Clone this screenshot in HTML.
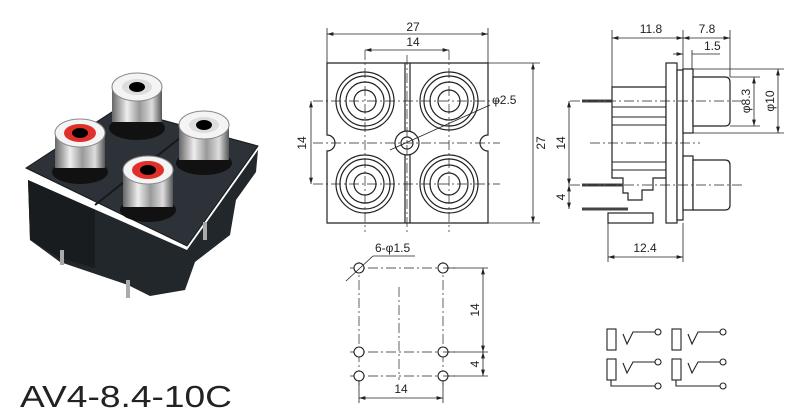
<!DOCTYPE html>
<html><head><meta charset="utf-8"><style>
html,body{margin:0;padding:0;background:#fff;}
svg{display:block;}
text{font-family:"Liberation Sans",Arial,sans-serif;fill:#222;}
</style></head><body>
<svg width="800" height="417" viewBox="0 0 800 417" xmlns="http://www.w3.org/2000/svg">
<defs>
<marker id="a" viewBox="0 0 10 6" refX="10" refY="3" markerWidth="8" markerHeight="5" orient="auto-start-reverse"><path d="M0,0L10,3L0,6z" fill="#222"/></marker>
<linearGradient id="silv" x1="0" x2="1" y1="0" y2="0"><stop offset="0" stop-color="#666"/><stop offset=".3" stop-color="#eee"/><stop offset=".55" stop-color="#999"/><stop offset=".8" stop-color="#ddd"/><stop offset="1" stop-color="#555"/></linearGradient>
<g id="c"><circle r="29"/><circle r="25"/><circle r="19"/><circle r="11"/></g>
</defs>

<!-- PHOTO -->
<polygon points="28,180 187,250 258,150 256,172 236,200 230,235 195,262 185,290 150,296 128,285 60,262 30,240" fill="#22272b"/>
<polygon points="28,180 95,210 95,268 60,258 30,240" fill="#181c1f"/>
<polygon points="26,168 118,108 258,146 187,246" fill="#2c3237" stroke="#15191c"/>
<line x1="95" y1="205" x2="190" y2="130" stroke="#15191c" stroke-width="2"/>
<line x1="62" y1="250" x2="62" y2="265" stroke="#aaa" stroke-width="4"/>
<line x1="128" y1="280" x2="128" y2="298" stroke="#aaa" stroke-width="4"/>
<line x1="205" y1="222" x2="205" y2="240" stroke="#aaa" stroke-width="4"/>
<ellipse cx="137" cy="128" rx="28" ry="12" fill="#111"/>
<rect x="112" y="87" width="50" height="35" fill="url(#silv)"/>
<ellipse cx="137" cy="87" rx="25" ry="14" fill="#f4f4f4" stroke="#888"/>
<ellipse cx="137" cy="87" rx="15" ry="8" fill="#ddd"/>
<ellipse cx="137" cy="87" rx="8" ry="5" fill="#000"/>
<ellipse cx="80" cy="172" rx="28" ry="12" fill="#111"/>
<rect x="55" y="133" width="50" height="35" fill="url(#silv)"/>
<ellipse cx="80" cy="133" rx="25" ry="14" fill="#f4f4f4" stroke="#888"/>
<ellipse cx="80" cy="133" rx="16" ry="9" fill="#e0302a"/>
<ellipse cx="80" cy="133" rx="8" ry="5" fill="#000"/>
<ellipse cx="204" cy="163" rx="28" ry="12" fill="#111"/>
<rect x="179" y="125" width="50" height="35" fill="url(#silv)"/>
<ellipse cx="204" cy="125" rx="25" ry="14" fill="#f4f4f4" stroke="#888"/>
<ellipse cx="204" cy="125" rx="15" ry="8" fill="#ddd"/>
<ellipse cx="204" cy="125" rx="8" ry="5" fill="#000"/>
<ellipse cx="148" cy="210" rx="28" ry="12" fill="#111"/>
<rect x="123" y="170" width="50" height="37" fill="url(#silv)"/>
<ellipse cx="148" cy="170" rx="25" ry="14" fill="#f4f4f4" stroke="#888"/>
<ellipse cx="148" cy="170" rx="16" ry="9" fill="#e0302a"/>
<ellipse cx="148" cy="170" rx="8" ry="5" fill="#000"/>

<text x="20" y="407" font-size="31" textLength="212" lengthAdjust="spacingAndGlyphs">AV4-8.4-10C</text>

<!-- TOP VIEW -->
<g fill="none" stroke="#222" stroke-width="1.2">
<path d="M327,63H488V135A8,8 0 0 0 488,151V223H327V151A8,8 0 0 0 327,135Z"/>
<line x1="405" y1="63" x2="405" y2="223"/><line x1="410" y1="63" x2="410" y2="223"/>
<circle cx="407" cy="143" r="12" fill="#fff"/><circle cx="407" cy="143" r="6"/>
<use href="#c" x="365" y="101"/><use href="#c" x="449" y="101"/><use href="#c" x="365" y="184"/><use href="#c" x="449" y="184"/>
</g>
<g stroke="#222" stroke-width=".7" stroke-dasharray="10,3,2,3" fill="none">
<line x1="313" y1="101" x2="500" y2="101"/><line x1="313" y1="184" x2="500" y2="184"/><line x1="313" y1="143" x2="500" y2="143"/>
<line x1="365" y1="50" x2="365" y2="232"/><line x1="449" y1="50" x2="449" y2="232"/><line x1="407" y1="55" x2="407" y2="232"/>
</g>
<g stroke="#222" stroke-width=".8">
<line x1="327" y1="28" x2="327" y2="63"/><line x1="488" y1="28" x2="488" y2="63"/>
<line x1="327" y1="34" x2="488" y2="34" marker-start="url(#a)" marker-end="url(#a)"/>
<line x1="365" y1="50" x2="449" y2="50" marker-start="url(#a)" marker-end="url(#a)"/>
<line x1="311" y1="101" x2="311" y2="184" marker-start="url(#a)" marker-end="url(#a)"/>
<line x1="488" y1="63" x2="540" y2="63"/><line x1="488" y1="223" x2="540" y2="223"/>
<line x1="533" y1="63" x2="533" y2="223" marker-start="url(#a)" marker-end="url(#a)"/>
<line x1="390" y1="150" x2="490" y2="105"/>
</g>
<text x="413" y="31" font-size="12" text-anchor="middle">27</text>
<text x="413" y="46" font-size="12" text-anchor="middle">14</text>
<text x="492" y="104" font-size="12">φ2.5</text>
<text transform="translate(306,143) rotate(-90)" font-size="12" text-anchor="middle">14</text>
<text transform="translate(545,143) rotate(-90)" font-size="12" text-anchor="middle">27</text>

<!-- SIDE VIEW -->
<g fill="#fff" stroke="#222" stroke-width="1.2">
<path d="M612,87H666V178H653V190H642V200H628V193H623V178H612Z"/>
<rect x="608" y="213" width="45" height="10"/>
<rect x="666" y="63" width="11" height="160"/>
<rect x="677" y="70" width="6" height="150"/>
<rect x="683" y="69" width="10" height="64"/>
<path d="M693,77H725Q730,77 730,82V121Q730,126 725,126H693Z"/>
<rect x="683" y="156" width="10" height="54"/>
<path d="M693,160H725Q730,160 730,165V205Q730,210 725,210H693Z"/>
</g>
<g stroke="#222" stroke-width="1">
<line x1="612" y1="107" x2="666" y2="107"/><line x1="612" y1="117" x2="666" y2="117"/><line x1="612" y1="125" x2="666" y2="125"/>
<line x1="612" y1="162" x2="666" y2="162"/><line x1="612" y1="170" x2="666" y2="170"/>
</g>
<g stroke="#444" stroke-width="3">
<line x1="582" y1="101" x2="612" y2="101"/><line x1="582" y1="185" x2="623" y2="185"/><line x1="582" y1="209" x2="628" y2="209"/>
</g>
<g stroke="#222" stroke-width=".7" stroke-dasharray="10,3,2,3">
<line x1="570" y1="101" x2="745" y2="101"/><line x1="590" y1="143" x2="700" y2="143"/><line x1="570" y1="185" x2="745" y2="185"/>
</g>
<g stroke="#222" stroke-width=".8">
<line x1="612" y1="30" x2="612" y2="87"/><line x1="683" y1="30" x2="683" y2="69"/><line x1="730" y1="30" x2="730" y2="77"/><line x1="692" y1="50" x2="692" y2="69"/>
<line x1="612" y1="38" x2="683" y2="38" marker-start="url(#a)" marker-end="url(#a)"/>
<line x1="683" y1="38" x2="730" y2="38" marker-start="url(#a)" marker-end="url(#a)"/>
<line x1="673" y1="54" x2="683" y2="54" marker-end="url(#a)"/><line x1="692" y1="54" x2="720" y2="54"/>
<line x1="730" y1="77" x2="760" y2="77"/><line x1="730" y1="126" x2="760" y2="126"/>
<line x1="693" y1="69" x2="784" y2="69"/><line x1="693" y1="133" x2="784" y2="133"/>
<line x1="754" y1="77" x2="754" y2="126" marker-start="url(#a)" marker-end="url(#a)"/>
<line x1="778" y1="69" x2="778" y2="133" marker-start="url(#a)" marker-end="url(#a)"/>
<line x1="569" y1="101" x2="569" y2="185" marker-start="url(#a)" marker-end="url(#a)"/>
<line x1="569" y1="185" x2="569" y2="209" marker-start="url(#a)" marker-end="url(#a)"/>
<line x1="608" y1="223" x2="608" y2="262"/><line x1="683" y1="223" x2="683" y2="262"/>
<line x1="608" y1="257" x2="683" y2="257" marker-start="url(#a)" marker-end="url(#a)"/>
</g>
<text x="651" y="33" font-size="12" text-anchor="middle">11.8</text>
<text x="707" y="33" font-size="12" text-anchor="middle">7.8</text>
<text x="704" y="50" font-size="12">1.5</text>
<text x="645" y="252" font-size="12" text-anchor="middle">12.4</text>
<text transform="translate(750,101) rotate(-90)" font-size="12" text-anchor="middle">φ8.3</text>
<text transform="translate(774,101) rotate(-90)" font-size="12" text-anchor="middle">φ10</text>
<text transform="translate(565,143) rotate(-90)" font-size="12" text-anchor="middle">14</text>
<text transform="translate(565,197) rotate(-90)" font-size="12" text-anchor="middle">4</text>

<!-- HOLE PATTERN -->
<g stroke="#222" stroke-width=".7" stroke-dasharray="10,3,2,3">
<line x1="350" y1="268" x2="455" y2="268"/><line x1="350" y1="352" x2="455" y2="352"/><line x1="350" y1="376" x2="455" y2="376"/>
<line x1="359" y1="262" x2="359" y2="385"/><line x1="443" y1="262" x2="443" y2="385"/><line x1="399" y1="287" x2="399" y2="380"/>
</g>
<g fill="#fff" stroke="#222" stroke-width="1.1">
<circle cx="359" cy="268" r="5"/><circle cx="443" cy="268" r="5"/><circle cx="359" cy="352" r="5"/><circle cx="443" cy="352" r="5"/><circle cx="359" cy="376" r="5"/><circle cx="443" cy="376" r="5"/>
</g>
<g stroke="#222" stroke-width=".8">
<line x1="346" y1="281" x2="373" y2="256"/><line x1="373" y1="256" x2="415" y2="256"/>
<line x1="443" y1="268" x2="488" y2="268"/><line x1="443" y1="352" x2="488" y2="352"/><line x1="443" y1="376" x2="488" y2="376"/>
<line x1="483" y1="268" x2="483" y2="352" marker-start="url(#a)" marker-end="url(#a)"/>
<line x1="483" y1="352" x2="483" y2="376" marker-start="url(#a)" marker-end="url(#a)"/>
<line x1="359" y1="380" x2="359" y2="403"/><line x1="443" y1="380" x2="443" y2="403"/>
<line x1="359" y1="398" x2="443" y2="398" marker-start="url(#a)" marker-end="url(#a)"/>
</g>
<text x="375" y="252" font-size="12">6-φ1.5</text>
<text transform="translate(479,310) rotate(-90)" font-size="12" text-anchor="middle">14</text>
<text transform="translate(479,364) rotate(-90)" font-size="12" text-anchor="middle">4</text>
<text x="401" y="393" font-size="12" text-anchor="middle">14</text>

<!-- SCHEMATIC -->
<g id="s" fill="none" stroke="#222" stroke-width="1.1">
<rect x="607" y="329" width="9" height="21"/><rect x="607" y="359" width="9" height="21"/>
<path d="M611,380V386H655"/><circle cx="658" cy="386" r="3"/>
<path d="M623,334L627,344L633,332H655"/><circle cx="658" cy="332" r="3"/>
<path d="M623,363L627,373L633,362H655"/><circle cx="658" cy="362" r="3"/>
</g>
<use href="#s" x="65"/>
</svg>
</body></html>
